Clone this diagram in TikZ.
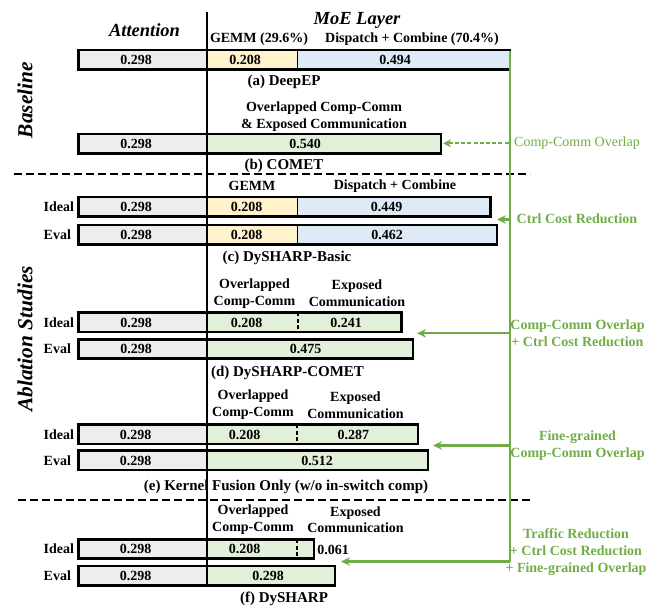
\documentclass[tikz,border=0pt]{standalone}
\usepackage{fontspec}
\setmainfont{Liberation Serif}
\usetikzlibrary{arrows.meta}

\definecolor{attgray}{HTML}{EDEDED}
\definecolor{gemmyel}{HTML}{FFF2CC}
\definecolor{commblue}{HTML}{DEEBF7}
\definecolor{ovgreen}{HTML}{E2F0D9}
\definecolor{annot}{HTML}{70AD47}

% one coloured segment of a bar: name, left x, right x, centre y, fill
\newcommand{\barseg}[5]{%
  \node[segfill=#5, minimum width={#3pt-#2pt}] (#1) at (#2,#4) {};}

\begin{document}
\begin{tikzpicture}[x=1pt, y=-1pt,
  segfill/.style={rectangle, fill=#1, draw=none, inner sep=0pt,
    minimum height=19pt, anchor=west},
  barframe/.style={draw=black, line width=2.6pt},
  segdiv/.style={draw=black, line width=1.1pt},
  segdivdash/.style={draw=black, line width=2pt, dash pattern=on 4pt off 2.5pt},
  lbl/.style={inner sep=0pt, font=\fontsize{14}{16.8}\selectfont\bfseries},
  captxt/.style={inner sep=0pt, font=\fontsize{15}{18}\selectfont\bfseries},
  headtxt/.style={inner sep=0pt, font=\fontsize{18.5}{22}\selectfont\bfseries\itshape},
  sidetxt/.style={inner sep=0pt, rotate=90, font=\fontsize{21.4}{24}\selectfont\bfseries\itshape},
  rowtxt/.style={inner sep=0pt, anchor=west, font=\fontsize{14}{16.8}\selectfont\bfseries},
  notetxt/.style={inner sep=0pt, align=center, text=annot, font=\fontsize{14}{16.8}\selectfont\bfseries},
  trunkline/.style={draw=annot, line width=2.2pt},
  branchline/.style={draw=annot, line width=2.2pt, -{Stealth[length=9pt, width=8.5pt]}},
  dbranchline/.style={draw=annot, line width=1.7pt, dash pattern=on 4pt off 2.2pt,
    -{Stealth[length=8pt, width=8pt]}},
  sepdash/.style={draw=black, line width=1.9pt, dash pattern=on 8pt off 4pt},
]
\useasboundingbox (0,0) rectangle (662,612);

% ---------- column headings ----------
\node[headtxt] (hAtt) at (144.5,30) {Attention};
\node[headtxt] (hMoE) at (357,20.5) {MoE Layer};

% ---------- rotated group labels ----------
\node[sidetxt] (gBase) at (25,100) {Baseline};
\node[sidetxt] (gAbl) at (25,339) {Ablation Studies};

% ---------- (a) DeepEP ----------
\node[lbl] (aHg) at (259,39) {GEMM (29.6\%)};
\node[lbl] (aHd) at (412,39) {Dispatch + Combine (70.4\%)};
\barseg{aAtt}{78.3}{207}{59.7}{attgray}
\barseg{aGem}{207}{297}{59.7}{gemmyel}
\barseg{aCom}{297}{509.7}{59.7}{commblue}
\draw[segdiv] (aGem.north east) -- (aGem.south east);
\draw[barframe] (aAtt.north west) rectangle (aCom.south east);
\node[lbl] (aV1) at (136,59.7) {0.298};
\node[lbl] (aV2) at (245,59.7) {0.208};
\node[lbl] (aV3) at (395,59.7) {0.494};
\node[captxt] (aCap) at (284,81.7) {(a) DeepEP};

% ---------- (b) COMET ----------
\node[lbl, align=center] (bH) at (324,116.7) {Overlapped Comp-Comm\\\& Exposed Communication};
\barseg{bAtt}{78.3}{207}{143.7}{attgray}
\barseg{bMix}{207}{440.7}{143.7}{ovgreen}
\draw[barframe] (bAtt.north west) rectangle (bMix.south east);
\node[lbl] (bV1) at (136,143.7) {0.298};
\node[lbl] (bV2) at (305,143.7) {0.540};
\node[captxt] (bCap) at (284,165.7) {(b) COMET};

% ---------- separator ----------
\coordinate (s1L) at (14,174.3);
\coordinate (s1R) at (530,174.3);
\draw[sepdash] (s1L) -- (s1R);

% ---------- (c) DySHARP-Basic ----------
\node[lbl] (cHg) at (252,185.7) {GEMM};
\node[lbl] (cHd) at (395,185.7) {Dispatch + Combine};
\node[rowtxt] (cI) at (43.5,206.7) {Ideal};
\barseg{cIAtt}{78.3}{207}{206.7}{attgray}
\barseg{cIGem}{207}{297}{206.7}{gemmyel}
\barseg{cICom}{297}{490.2}{206.7}{commblue}
\draw[segdiv] (cIGem.north east) -- (cIGem.south east);
\draw[barframe] (cIAtt.north west) rectangle (cICom.south east);
\node[lbl] (cIV1) at (136,206.7) {0.298};
\node[lbl] (cIV2) at (246.5,206.7) {0.208};
\node[lbl] (cIV3) at (386.5,206.7) {0.449};
\node[rowtxt] (cE) at (43.5,234.7) {Eval};
\barseg{cEAtt}{78.3}{207}{234.7}{attgray}
\barseg{cEGem}{207}{297}{234.7}{gemmyel}
\barseg{cECom}{297}{496.7}{234.7}{commblue}
\draw[segdiv] (cEGem.north east) -- (cEGem.south east);
\draw[barframe] (cEAtt.north west) rectangle (cECom.south east);
\node[lbl] (cEV1) at (136,234.7) {0.298};
\node[lbl] (cEV2) at (246.5,234.7) {0.208};
\node[lbl] (cEV3) at (387,234.7) {0.462};
\node[captxt] (cCap) at (287,258.3) {(c) DySHARP-Basic};

% ---------- (d) DySHARP-COMET ----------
\node[lbl, align=center] (dHo) at (254.5,293.3) {Overlapped\\Comp-Comm};
\node[lbl, align=center] (dHe) at (357,293.3) {Exposed\\Communication};
\node[rowtxt] (dI) at (43.5,322.5) {Ideal};
\barseg{dIAtt}{78.3}{207}{322.5}{attgray}
\barseg{dIMix}{207}{401.2}{322.5}{ovgreen}
\draw[segdivdash] (297.5,312.5) -- (297.5,332.5);
\draw[barframe] (dIAtt.north west) rectangle (dIMix.south east);
\node[lbl] (dIV1) at (136,322.5) {0.298};
\node[lbl] (dIV2) at (246.5,322.5) {0.208};
\node[lbl] (dIV3) at (346,322.5) {0.241};
\node[rowtxt] (dE) at (43.5,349) {Eval};
\barseg{dEAtt}{78.3}{207}{349}{attgray}
\barseg{dEMix}{207}{412.7}{349}{ovgreen}
\draw[barframe] (dEAtt.north west) rectangle (dEMix.south east);
\node[lbl] (dEV1) at (136,349) {0.298};
\node[lbl] (dEV2) at (305.5,349) {0.475};
\node[captxt] (dCap) at (287.5,372.7) {(d) DySHARP-COMET};

% ---------- (e) Kernel fusion only ----------
\node[lbl, align=center] (eHo) at (253,405) {Overlapped\\Comp-Comm};
\node[lbl, align=center] (eHe) at (355.5,405) {Exposed\\Communication};
\node[rowtxt] (eI) at (43.5,434.5) {Ideal};
\barseg{eIAtt}{78.3}{207}{434.5}{attgray}
\barseg{eIMix}{207}{417.7}{434.5}{ovgreen}
\draw[segdivdash] (296.8,424.5) -- (296.8,444.5);
\draw[barframe] (eIAtt.north west) rectangle (eIMix.south east);
\node[lbl] (eIV1) at (135.6,434.5) {0.298};
\node[lbl] (eIV2) at (244.7,434.5) {0.208};
\node[lbl] (eIV3) at (353.4,434.5) {0.287};
\node[rowtxt] (eE) at (43.5,460.5) {Eval};
\barseg{eEAtt}{78.3}{207}{460.5}{attgray}
\barseg{eEMix}{207}{427.7}{460.5}{ovgreen}
\draw[barframe] (eEAtt.north west) rectangle (eEMix.south east);
\node[lbl] (eEV1) at (135.6,460.5) {0.298};
\node[lbl] (eEV2) at (317,460.5) {0.512};
\node[captxt] (eCap) at (286,487.3) {(e) Kernel Fusion Only (w/o in-switch comp)};

% ---------- separator ----------
\coordinate (s2L) at (18,500);
\coordinate (s2R) at (530,500);
\draw[sepdash] (s2L) -- (s2R);

% ---------- (f) DySHARP ----------
\node[lbl, align=center] (fHo) at (253,519.7) {Overlapped\\Comp-Comm};
\node[lbl, align=center] (fHe) at (355.5,519.7) {Exposed\\Communication};
\node[rowtxt] (fI) at (43.5,549) {Ideal};
\barseg{fIAtt}{78.3}{207}{549}{attgray}
\barseg{fIMix}{207}{313.7}{549}{ovgreen}
\draw[segdivdash] (296.7,539) -- (296.7,559);
\draw[barframe] (fIAtt.north west) rectangle (fIMix.south east);
\node[lbl] (fIV1) at (135.6,549) {0.298};
\node[lbl] (fIV2) at (244.7,549) {0.208};
\node[lbl] (fIV3) at (333,550) {0.061};
\node[rowtxt] (fE) at (43.5,575.5) {Eval};
\barseg{fEAtt}{78.3}{207}{575.5}{attgray}
\barseg{fEMix}{207}{334.7}{575.5}{ovgreen}
\draw[barframe] (fEAtt.north west) rectangle (fEMix.south east);
\node[lbl] (fEV1) at (135.6,575.5) {0.298};
\node[lbl] (fEV2) at (268,575.5) {0.298};
\node[captxt] (fCap) at (284,599.3) {(f) DySHARP};

% ---------- Attention | MoE divider ----------
\coordinate (axTop) at (207,12);
\coordinate (axBot) at (207,587);
\draw[black, line width=1.2pt] (axTop) -- (axBot);

% ---------- optimisation annotations ----------
\coordinate (tTop) at (510,51);
\coordinate (tB) at (508.5,143.3);
\coordinate (tC) at (510,219.5);
\coordinate (tD) at (510,333.3);
\coordinate (tE) at (510,445.5);
\coordinate (tF) at (510,561.5);
\coordinate (pB) at (443,143.3);
\coordinate (pC) at (497,219.5);
\coordinate (pD) at (417,333.3);
\coordinate (pE) at (433,445.5);
\coordinate (pF) at (341,561.5);
\draw[trunkline] (tTop) -- (tF);
\draw[dbranchline] (tB) -- (pB);
\draw[branchline] (tC) -- (pC);
\draw[branchline] (tD) -- (pD);
\draw[branchline] (tE) -- (pE);
\draw[branchline] (tF) -- (pF);

\node[notetxt, font=\fontsize{14}{16.8}\selectfont] (nB) at (577,143) {Comp-Comm Overlap};
\node[notetxt] (nC) at (577,219) {Ctrl Cost Reduction};
\node[notetxt] (nD) at (577.5,333.5) {Comp-Comm Overlap\\+ Ctrl Cost Reduction};
\node[notetxt] (nE) at (577.5,445.8) {Fine-grained\\Comp-Comm Overlap};
\node[notetxt] (nF) at (576,552) {Traffic Reduction\\+ Ctrl Cost Reduction\\+ Fine-grained Overlap};
\end{tikzpicture}
\end{document}
